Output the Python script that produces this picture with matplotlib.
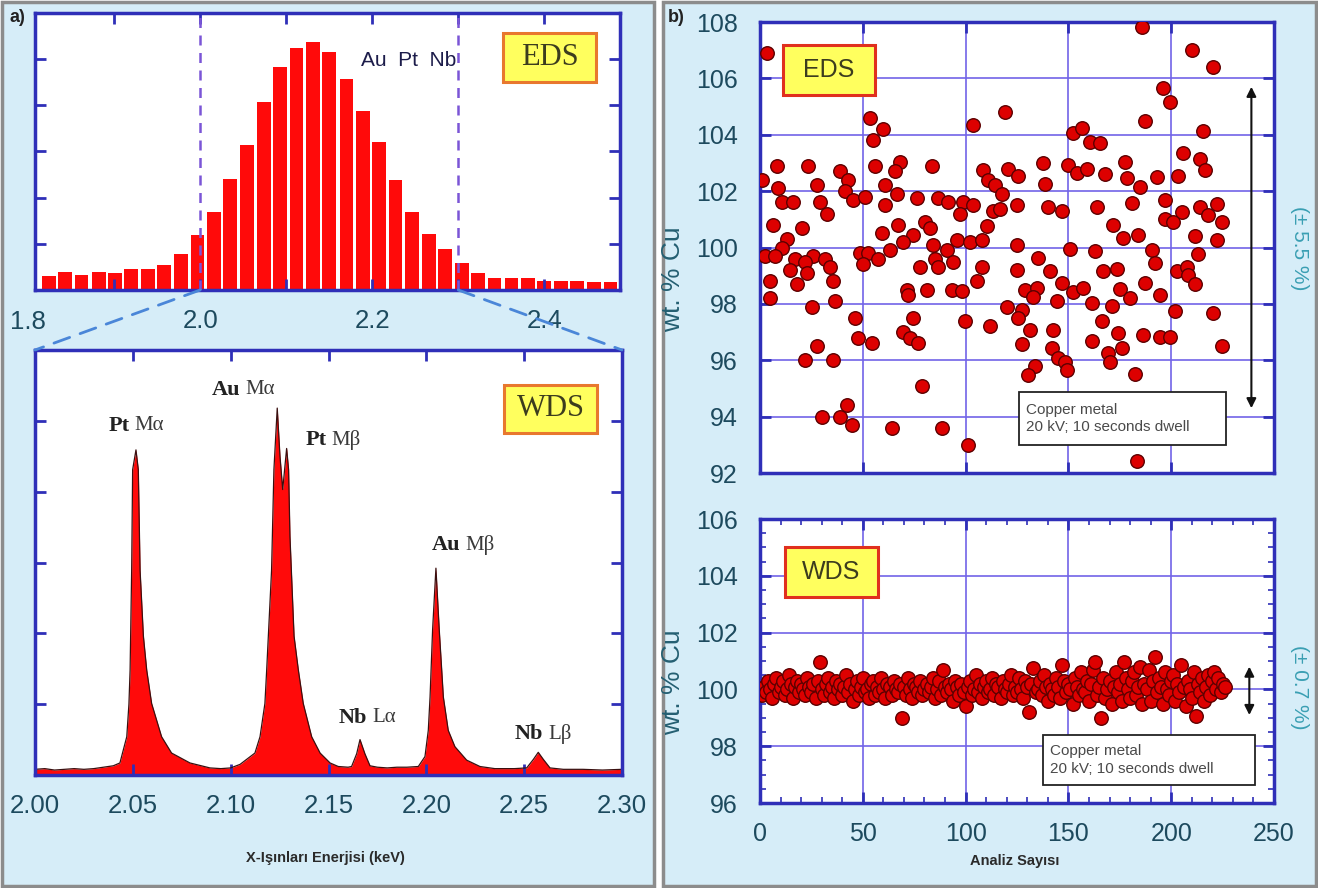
import matplotlib
matplotlib.use('Agg')
import matplotlib.pyplot as plt
from matplotlib import font_manager
from matplotlib.patches import Rectangle, ConnectionPatch
from matplotlib.ticker import MultipleLocator
import matplotlib.transforms as mtransforms

names = {f.name for f in font_manager.fontManager.ttflist}
NARROW = 'Liberation Sans Narrow' if 'Liberation Sans Narrow' in names else 'Liberation Sans'
SANS = 'Liberation Sans'
SERIF = 'Liberation Serif'

# --- a) EDS histogram (bar centres in keV, heights in tick units) ---
hist_e = [1.824, 1.843, 1.862, 1.882, 1.901, 1.920, 1.939, 1.958, 1.978, 1.997,
          2.016, 2.035, 2.054, 2.074, 2.093, 2.112, 2.131, 2.150, 2.170, 2.189,
          2.208, 2.227, 2.246, 2.266, 2.285, 2.304, 2.323, 2.342, 2.362, 2.381,
          2.400, 2.419, 2.438, 2.458, 2.477]
hist_h = [0.31, 0.38, 0.32, 0.39, 0.37, 0.46, 0.46, 0.54, 0.79, 1.20,
          1.70, 2.41, 3.13, 4.08, 4.84, 5.24, 5.38, 5.16, 4.58, 3.88,
          3.20, 2.39, 1.70, 1.21, 0.88, 0.58, 0.37, 0.26, 0.26, 0.26,
          0.20, 0.20, 0.20, 0.18, 0.18]

# --- a) WDS spectrum ---
spec_e = [2.000, 2.005, 2.010, 2.015, 2.020, 2.025, 2.030, 2.035, 2.040, 2.0434,
          2.0469, 2.0480, 2.0486, 2.0494, 2.0499, 2.0516, 2.0528, 2.0537, 2.0554, 2.0571,
          2.0596, 2.0647, 2.0698, 2.0792, 2.0894, 2.095, 2.100, 2.1048, 2.1124, 2.1150,
          2.1175, 2.1184, 2.1209, 2.1221, 2.1238, 2.1252, 2.1266, 2.1286, 2.1296, 2.1303,
          2.1317, 2.1324, 2.1346, 2.1371, 2.1414, 2.1457, 2.1508, 2.155, 2.160, 2.1618,
          2.1644, 2.1661, 2.1686, 2.1712, 2.175, 2.180, 2.185, 2.190, 2.1959, 2.1993,
          2.2010, 2.2019, 2.2032, 2.2049, 2.2066, 2.2087, 2.2112, 2.2146, 2.2206, 2.2274,
          2.235, 2.245, 2.2513, 2.2547, 2.2572, 2.2598, 2.2632, 2.270, 2.280, 2.290, 2.300]
spec_i = [0.08, 0.09, 0.07, 0.08, 0.09, 0.08, 0.09, 0.11, 0.13, 0.17,
          0.54, 1.00, 1.48, 2.89, 4.31, 4.59, 4.31, 2.89, 1.96, 1.48,
          1.01, 0.54, 0.31, 0.17, 0.10, 0.09, 0.10, 0.15, 0.31, 0.54,
          1.01, 1.48, 2.89, 4.31, 5.18, 4.50, 4.03, 4.61, 4.31, 3.37,
          2.43, 1.96, 1.48, 1.01, 0.54, 0.31, 0.17, 0.12, 0.11, 0.12,
          0.30, 0.50, 0.30, 0.13, 0.11, 0.10, 0.11, 0.11, 0.12, 0.26,
          0.63, 1.10, 2.05, 2.92, 2.05, 1.10, 0.63, 0.40, 0.21, 0.12,
          0.09, 0.09, 0.10, 0.22, 0.32, 0.22, 0.10, 0.08, 0.08, 0.07, 0.08]

# peak labels: (element, line, energy, intensity)
peak_labels = [('Pt', 'M\u03b1', 2.0496, 4.93), ('Au', 'M\u03b1', 2.1063, 5.44),
               ('Pt', 'M\u03b2', 2.1503, 4.73), ('Au', 'M\u03b2', 2.2187, 3.25),
               ('Nb', 'L\u03b1', 2.1712, 0.81), ('Nb', 'L\u03b2', 2.2612, 0.58)]

# --- b) EDS repeat analyses (analysis number, wt.% Cu) ---
eds_n = [3.2, 53.5, 60.0, 55.1, 8.1, 23.5, 38.9, 55.9, 0.8, 8.9, 27.6, 43.0, 41.3, 60.8,
         10.5, 16.2, 29.2, 45.4, 51.1, 60.8, 32.4, 6.5, 20.3, 59.2, 13.0, 10.5, 2.4, 7.3,
         17.0, 25.9, 21.9, 31.6, 14.6, 22.7, 34.0, 48.6, 52.7, 50.3, 57.5, 4.9, 17.8, 35.7,
         4.9, 25.1, 36.5, 46.2, 47.8, 54.3, 27.6, 21.9, 35.7, 42.1, 30.0, 38.9, 44.6,
         103.8, 119.2, 68.1, 65.7, 83.5, 66.5, 76.2, 86.7, 91.6, 98.9, 103.8, 97.3, 67.3,
         80.3, 82.7, 74.6, 69.7, 63.2, 84.3, 90.8, 95.7, 102.1, 107.8, 85.1, 94.1, 77.8,
         86.7, 107.8, 71.3, 72.2, 81.1, 93.2, 98.1, 105.4, 74.6, 99.7, 111.9, 69.7, 73.0,
         77.0, 78.6, 64.0, 88.4, 101.3, 108.6, 111.0, 114.3, 117.5, 120.8, 113.5, 116.7,
         110.2, 120.0,
         185.6, 187.2, 152.4, 156.4, 160.5, 165.3, 137.8, 149.9, 154.0, 158.9, 167.8, 177.5,
         178.3, 184.8, 125.6, 138.6, 124.8, 140.2, 146.7, 163.7, 180.7, 171.8, 176.7, 184.0,
         124.8, 150.7, 162.9, 135.3, 141.0, 167.0, 173.4, 124.8, 146.7, 128.9, 134.5, 132.9,
         152.4, 157.2, 144.3, 161.3, 171.0, 175.1, 179.9, 187.2, 127.2, 125.6, 131.3, 142.6,
         166.1, 174.3, 186.4, 127.2, 141.8, 161.3, 169.4, 175.9, 145.1, 148.3, 170.2, 133.7,
         130.5, 149.1, 182.4, 183.2,
         210.0, 220.5, 196.2, 199.5, 215.7, 205.9, 214.0, 216.5, 193.0, 203.5, 197.0, 205.1,
         197.0, 201.1, 214.0, 222.2, 218.1, 224.6, 211.6, 222.2, 190.5, 192.2, 213.2, 202.7,
         207.6, 208.4, 211.6, 194.6, 201.9, 220.5, 194.6, 199.5, 224.6]
eds_wt = [106.9, 104.6, 104.2, 103.8, 102.9, 102.9, 102.7, 102.9, 102.4, 102.1, 102.2, 102.4,
          102.0, 102.2, 101.6, 101.6, 101.6, 101.7, 101.8, 101.5, 101.2, 100.8, 100.7, 100.5,
          100.3, 100.0, 99.7, 99.7, 99.6, 99.7, 99.5, 99.6, 99.2, 99.1, 99.3, 99.8, 99.8,
          99.4, 99.6, 98.8, 98.7, 98.8, 98.2, 97.9, 98.1, 97.5, 96.8, 96.6, 96.5, 96.0, 96.0,
          94.4, 94.0, 94.0, 93.7,
          104.35, 104.8, 103.05, 102.7, 102.9, 101.9, 101.75, 101.75, 101.6, 101.6, 101.5,
          101.2, 100.8, 100.9, 100.7, 100.45, 100.2, 99.9, 100.1, 99.9, 100.25, 100.2, 100.25,
          99.6, 99.5, 99.3, 99.3, 99.3, 98.5, 98.3, 98.5, 98.5, 98.45, 98.8, 97.5, 97.4, 97.2,
          97.0, 96.8, 96.6, 95.1, 93.6, 93.6, 93.0, 102.75, 102.4, 102.2, 101.9, 102.8, 101.3,
          101.35, 100.75, 97.9,
          107.83, 104.49, 104.05, 104.23, 103.76, 103.7, 102.99, 102.91, 102.63, 102.79, 102.6,
          103.05, 102.46, 102.16, 102.52, 102.24, 101.51, 101.45, 101.3, 101.42, 101.57, 100.8,
          100.35, 100.45, 100.09, 99.94, 99.88, 99.62, 99.17, 99.15, 99.24, 99.2, 98.73, 98.5,
          98.58, 98.26, 98.41, 98.56, 98.11, 98.02, 97.91, 98.53, 98.22, 98.73, 97.79, 97.49,
          97.08, 97.08, 97.4, 96.98, 96.88, 96.57, 96.45, 96.69, 96.25, 96.43, 96.07, 95.93,
          95.95, 95.78, 95.48, 95.66, 95.5, 92.41,
          107.01, 106.42, 105.65, 105.17, 104.13, 103.34, 103.14, 102.75, 102.49, 102.55,
          101.69, 101.27, 101.01, 100.92, 101.42, 101.53, 101.15, 100.92, 100.42, 100.27,
          99.91, 99.44, 99.76, 99.15, 99.32, 99.03, 98.7, 98.32, 97.75, 97.67, 96.81, 96.84,
          96.49]

# --- b) WDS repeat analyses: one value per analysis number 1..226 ---
wds_wt = [99.8, 100.1, 99.9, 100.3, 100.0, 99.7, 100.2, 100.4, 99.9, 100.1, 100.3, 99.8, 100.0, 100.5, 100.2, 99.7, 100.1, 100.3, 99.9, 100.2,
          100.0, 99.8, 100.4, 100.1, 99.9, 100.2, 99.7, 100.3, 100.95, 100.0, 99.8, 100.2, 100.4, 99.9, 100.1, 99.7, 100.3, 100.0, 100.2, 99.8,
          100.1, 100.5, 99.9, 100.2, 99.6, 100.0, 100.3, 99.8, 100.1, 100.4, 99.9, 100.0, 99.7, 100.2, 100.3, 99.8, 100.1, 99.9, 100.4, 100.0,
          99.7, 100.2, 100.1, 99.8, 100.3, 100.0, 99.9, 100.2, 98.98, 100.1, 99.8, 100.4, 100.0, 99.7, 100.2, 100.1, 99.9, 100.3, 99.8, 100.0,
          100.2, 99.9, 100.1, 100.4, 99.7, 100.0, 100.3, 99.8, 100.7, 100.1, 99.9, 100.2, 100.0, 99.6, 100.3, 100.1, 99.8, 100.2, 99.9, 99.4,
          100.1, 100.3, 99.8, 100.0, 100.5, 99.9, 100.2, 99.7, 100.1, 100.3, 99.9, 100.0, 100.4, 99.8, 100.2, 100.1, 99.7, 100.3, 100.0, 99.9,
          100.2, 100.5, 99.8, 100.1, 99.9, 100.4, 100.0, 99.7, 100.3, 100.1, 99.2, 100.2, 100.75, 99.9, 100.0, 100.3, 99.8, 100.5, 100.1, 99.6,
          100.2, 100.0, 99.8, 100.4, 100.1, 99.7, 100.86, 100.3, 99.9, 100.2, 100.0, 99.5, 100.4, 100.1, 99.8, 100.6, 100.0, 99.9, 100.3, 99.6,
          100.2, 100.7, 100.98, 99.8, 100.1, 99.01, 100.4, 99.7, 100.0, 100.3, 99.5, 100.1, 100.6, 99.9, 100.2, 99.6, 100.98, 100.4, 100.0, 99.7,
          100.3, 100.6, 99.8, 100.1, 100.8, 99.5, 100.2, 100.0, 100.7, 99.6, 100.3, 101.15, 99.9, 100.4, 100.1, 99.5, 100.6, 100.0, 99.8, 100.3,
          100.5, 99.6, 100.2, 99.9, 100.86, 100.1, 99.4, 100.3, 100.0, 99.7, 100.6, 99.06, 100.2, 99.9, 100.4, 99.6, 100.1, 100.5, 99.8, 100.3,
          100.6, 100.0, 100.4, 99.9, 100.2, 100.1]
wds_n = list(range(1, len(wds_wt) + 1))

W, H = 1318, 888
BG = '#d6edf8'
FRAME = '#2f2fb8'
GRID = '#7264e8'
TICKTXT = '#1d4a5e'
TEAL = '#245f72'
TEAL2 = '#3a9fb3'
RED = '#ff0a0a'

fig = plt.figure(figsize=(W / 100, H / 100), dpi=100, facecolor='white')
fig.patches.append(Rectangle((2 / W, 2 / H), 652 / W, 884 / H, transform=fig.transFigure,
                             facecolor=BG, edgecolor='#8c8c8c', lw=2.5, zorder=-10))
fig.patches.append(Rectangle((663 / W, 2 / H), 653 / W, 884 / H, transform=fig.transFigure,
                             facecolor=BG, edgecolor='#8c8c8c', lw=2.5, zorder=-10))


def frame(ax, size):
    for s in ax.spines.values():
        s.set_color(FRAME)
        s.set_linewidth(2.5)
    ax.tick_params(which='both', direction='in', color=FRAME, top=True, right=True,
                   labelcolor=TICKTXT, labelsize=size, pad=12)
    ax.tick_params(which='major', length=8, width=2)
    ax.tick_params(which='minor', length=4, width=1.2)
    for lab in ax.get_xticklabels() + ax.get_yticklabels():
        lab.set_family(NARROW)


def label_box(ax, x0, y0, w, h, txt, edge, family, size):
    ax.add_patch(Rectangle((x0, y0), w, h, transform=ax.transAxes, facecolor='#ffff5e',
                           edgecolor=edge, lw=2.2, zorder=6, clip_on=False))
    ax.text(x0 + w / 2, y0 + h / 2, txt, transform=ax.transAxes, ha='center', va='center',
            fontsize=size, family=family, color='#3c3c1e', zorder=7)


# ---------------- a) top: EDS histogram ----------------
ax_h = fig.add_axes([35 / W, 1 - 290 / H, 585 / W, 277 / H])
ax_h.bar(hist_e, hist_h, width=0.016, color=RED, lw=0)
ax_h.set_xlim(1.808, 2.488)
ax_h.set_ylim(0, 6)
ax_h.set_xticks([2.0, 2.2, 2.4])
ax_h.set_xticklabels(['2.0', '2.2', '2.4'])
ax_h.set_xticks([1.9, 2.1, 2.3], minor=True)
ax_h.set_yticks([1, 2, 3, 4, 5])
ax_h.set_yticklabels([])
frame(ax_h, 18.5)
ax_h.tick_params(which='minor', length=8, width=2)
ax_h.tick_params(axis='x', pad=14)
tr = mtransforms.blended_transform_factory(ax_h.transData, ax_h.transAxes)
ax_h.text(1.8, -0.115, '1.8', transform=tr, ha='center', va='center', fontsize=18.5,
          family=NARROW, color=TICKTXT, clip_on=False)
for xv in (2.0, 2.3):
    ax_h.axvline(xv, color='#7b55d6', ls=(0, (4, 3)), lw=1.8, zorder=4)
ax_h.text(2.2427, 4.98, 'Au  Pt  Nb', ha='center', va='center', fontsize=15, family=SANS,
          color='#1c1c4a')
label_box(ax_h, 0.8, 0.751, 0.159, 0.177, 'EDS', '#e8782e', SERIF, 22)

# ---------------- a) bottom: WDS spectrum ----------------
ax_s = fig.add_axes([35 / W, 1 - 775 / H, 587 / W, 425 / H])
ax_s.fill_between(spec_e, spec_i, 0, color=RED, lw=0)
ax_s.plot(spec_e, spec_i, color='#3a1010', lw=0.9)
ax_s.set_xlim(2.0, 2.3)
ax_s.set_ylim(0, 6)
ax_s.set_xticks([2.00, 2.05, 2.10, 2.15, 2.20, 2.25, 2.30])
ax_s.set_xticklabels(['2.00', '2.05', '2.10', '2.15', '2.20', '2.25', '2.30'])
ax_s.set_yticks([1, 2, 3, 4, 5])
ax_s.set_yticklabels([])
frame(ax_s, 18.5)
ax_s.tick_params(axis='x', pad=14)
ax_s.set_xlabel('X-I\u015f\u0131nlar\u0131 Enerjisi (keV)', fontsize=10.5, fontweight='bold',
                family=SANS, color='#2a2a2a')
ax_s.xaxis.set_label_coords(0.494, -0.178)
for el, ln, e, i in peak_labels:
    ax_s.annotate(el, (e, i), xytext=(-2, 0), textcoords='offset points', ha='right',
                  va='center', fontsize=16, fontweight='bold', family=SERIF, color='#222222')
    ax_s.annotate(ln, (e, i), xytext=(2, 0), textcoords='offset points', ha='left',
                  va='center', fontsize=15, family=SERIF, color='#3a3a3a')
label_box(ax_s, 0.799, 0.805, 0.158, 0.113, 'WDS', '#e8782e', SERIF, 22)

for xv in (2.0, 2.3):
    con = ConnectionPatch(xyA=(xv, 0), coordsA=ax_h.transData, xyB=(xv, 6),
                          coordsB=ax_s.transData, color='#4a86d8', lw=2,
                          ls=(0, (6, 4)), zorder=5)
    fig.add_artist(con)

# ---------------- b) scatter plots ----------------
ax_e = fig.add_axes([760 / W, 1 - 473 / H, 514 / W, 451 / H])
ax_w = fig.add_axes([760 / W, 1 - 803 / H, 514 / W, 284 / H])

for ax, n, wt in ((ax_e, eds_n, eds_wt), (ax_w, wds_n, wds_wt)):
    ax.set_axisbelow(True)
    ax.grid(True, color=GRID, lw=1.2)
    ax.scatter(n, wt, s=95, c='#dd0000', edgecolors='#5c0000', linewidths=1.0, zorder=3)
    ax.set_xlim(0, 250)
    ax.set_xticks([0, 50, 100, 150, 200, 250])

ax_e.set_ylim(92, 108)
ax_e.set_yticks(range(92, 109, 2))
ax_e.set_xticklabels([])
frame(ax_e, 18)
ax_e.tick_params(axis='y', pad=16)

ax_w.set_ylim(96, 106)
ax_w.set_yticks(range(96, 107, 2))
ax_w.xaxis.set_minor_locator(MultipleLocator(10))
ax_w.yaxis.set_minor_locator(MultipleLocator(0.5))
frame(ax_w, 18)
ax_w.tick_params(axis='y', pad=16)
ax_w.tick_params(axis='x', pad=14)
ax_w.set_xlabel('Analiz Say\u0131s\u0131', fontsize=10.5, fontweight='bold', family=SANS,
                color='#2a2a2a')
ax_w.xaxis.set_label_coords(0.496, -0.18)

for ax, yc in ((ax_e, 0.43), (ax_w, 0.426)):
    ax.set_ylabel('wt. % Cu', fontsize=19, family=SANS, color=TEAL)
    ax.yaxis.set_label_coords(-0.146, yc)

ax_e.annotate('', xy=(239, 94.2), xytext=(239, 105.8),
              arrowprops=dict(arrowstyle='<|-|>', color='#111111', lw=1.5, mutation_scale=14))
ax_w.annotate('', xy=(238, 99.0), xytext=(238, 100.9),
              arrowprops=dict(arrowstyle='<|-|>', color='#111111', lw=1.5, mutation_scale=14))

label_box(ax_e, 0.0447, 0.838, 0.179, 0.111, 'EDS', '#e0301e', SANS, 18)
label_box(ax_w, 0.0486, 0.725, 0.181, 0.176, 'WDS', '#e0301e', SANS, 18)

for ax, (x0, y0, w, h) in ((ax_e, (0.504, 0.062, 0.403, 0.118)),
                           (ax_w, (0.551, 0.063, 0.412, 0.176))):
    ax.add_patch(Rectangle((x0, y0), w, h, transform=ax.transAxes, facecolor='white',
                           edgecolor='#222222', lw=1.3, zorder=6))
    ax.text(x0 + 0.013, y0 + h / 2, 'Copper metal\n20 kV; 10 seconds dwell',
            transform=ax.transAxes, ha='left', va='center', fontsize=11, family=NARROW,
            color='#4a4a4a', linespacing=1.35, zorder=7)

fig.text(1299 / W, 1 - 248 / H, '(\u00b1 5.5 %)', rotation=-90, ha='center', va='center',
         fontsize=15, family=SANS, color=TEAL2)
fig.text(1299 / W, 1 - 687 / H, '(\u00b1 0.7 %)', rotation=-90, ha='center', va='center',
         fontsize=15, family=SANS, color=TEAL2)

fig.text(10 / W, 1 - 17 / H, 'a)', ha='left', va='center', fontsize=13, fontweight='bold',
         family=SANS, color='#222222')
fig.text(668 / W, 1 - 18 / H, 'b)', ha='left', va='center', fontsize=13, fontweight='bold',
         family=SANS, color='#222222')

fig.savefig('out.png', dpi=100, facecolor=fig.get_facecolor())
